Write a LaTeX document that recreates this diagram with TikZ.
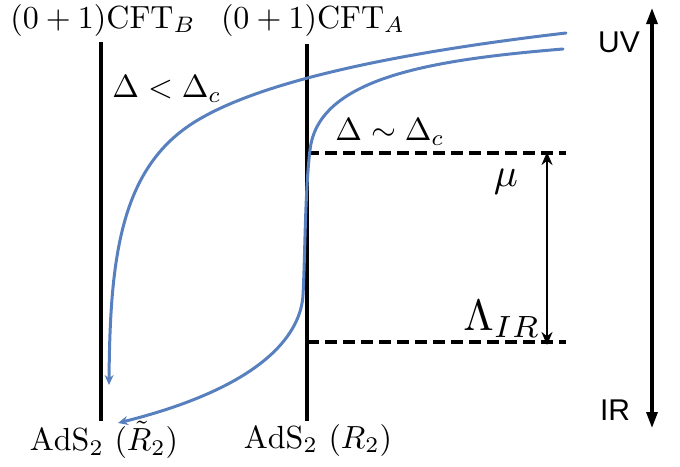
\documentclass[tikz,border=0pt]{standalone}
\usepackage{fontspec}
\newfontfamily\arial{Liberation Sans}
\usetikzlibrary{arrows.meta}
\definecolor{curveblue}{RGB}{88,128,190}
\begin{document}
\begin{tikzpicture}[x=1pt,y=-1pt,
  lbl/.style={inner sep=0pt, scale=3.2},
  sflbl/.style={font=\arial\fontsize{30}{34}\selectfont, inner sep=0pt},
  wall/.style={line width=3.4pt, black},
  cutoff/.style={line width=3.1pt, dash pattern=on 12pt off 6pt},
  flow/.style={line width=3pt, curveblue, line cap=round, -{Stealth[length=10pt,width=9pt]}},
  scalearrow/.style={line width=2.8pt, {Stealth[length=13pt,width=11pt]}-{Stealth[length=13pt,width=11pt]}},
  rgarrow/.style={line width=3.2pt, {Triangle[length=16pt,width=11pt]}-{Triangle[length=16pt,width=11pt]}}]
\useasboundingbox (0,0) rectangle (680,466);
% walls
\coordinate (Btop) at (101,42);
\coordinate (Bbot) at (101,421);
\coordinate (Atop) at (307,44);
\coordinate (Abot) at (307,421);
\draw[wall] (Btop) -- (Bbot);
\draw[wall] (Atop) -- (Abot);
% labels
\node[lbl] (cftB) at (103,20) {$(0+1)\mathrm{CFT}_B$};
\node[lbl] (cftA) at (313,20) {$(0+1)\mathrm{CFT}_A$};
\node[lbl] (adsB) at (104,440) {$\mathrm{AdS}_2\ (\tilde{R}_2)$};
\node[lbl] (adsA) at (318,440) {$\mathrm{AdS}_2\ (R_2)$};
\node[lbl] (dless) at (167,89) {$\Delta<\Delta_c$};
\node[lbl] (dsim) at (390,132) {$\Delta\sim\Delta_c$};
\node[lbl, scale=1.25] (mu) at (506,182) {$\mu$};
\node[lbl, scale=1.37] (lam) at (502,319) {$\Lambda_{IR}$};
\node[sflbl] (uv) at (619,42) {UV};
\node[sflbl] (ir) at (615,410) {IR};
% dashed scales
\coordinate (d1a) at (307,153);
\coordinate (d1b) at (566,153);
\coordinate (d2a) at (307,342);
\coordinate (d2b) at (566,342);
\draw[cutoff] (d1a) -- (d1b);
\draw[cutoff] (d2a) -- (d2b);
\coordinate (mut) at (547,152);
\coordinate (mub) at (547,345);
\draw[scalearrow] (mut) -- (mub);
\coordinate (rgt) at (652,8);
\coordinate (rgb) at (652,428);
\draw[rgarrow] (rgt) -- (rgb);
% flows
\coordinate (u0) at (566,33);
\coordinate (u1) at (190,125);
\coordinate (u2) at (109,385);
\draw[flow] (u0) .. controls (420,50) and (260,78) .. (u1)
                 .. controls (120,172) and (110,260) .. (u2);
\coordinate (l0) at (563,49);
\coordinate (l1) at (310,150);
\coordinate (l2) at (303,295);
\coordinate (l3) at (118,423);
\draw[flow] (l0) .. controls (430,60) and (318,78) .. (l1)
                 .. controls (305,190) and (305,260) .. (l2)
                 .. controls (301,330) and (270,385) .. (l3);
\end{tikzpicture}
\end{document}
